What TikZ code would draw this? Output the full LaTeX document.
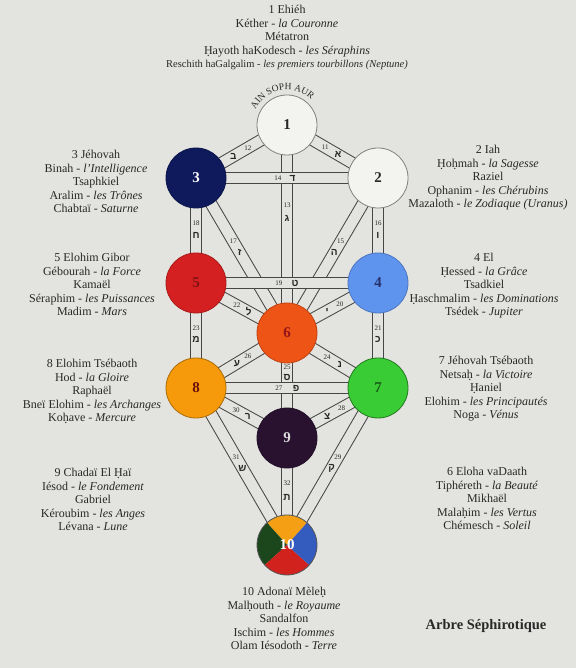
\documentclass[tikz,border=0pt]{standalone}
\usepackage{fontspec}
\setmainfont{Liberation Serif}
\newfontfamily\hebfont[Script=Hebrew]{Liberation Sans}
\usetikzlibrary{decorations.text,calc}
\definecolor{bg}{RGB}{227,227,223}
\definecolor{ink}{RGB}{40,40,40}
\definecolor{chan}{RGB}{70,70,70}
\definecolor{cwhite}{RGB}{243,243,240}
\definecolor{cnavy}{RGB}{14,26,92}
\definecolor{cred}{RGB}{212,32,32}
\definecolor{cblue}{RGB}{95,148,238}
\definecolor{cver}{RGB}{238,84,22}
\definecolor{corange}{RGB}{246,154,12}
\definecolor{cgreen}{RGB}{58,204,52}
\definecolor{cpurple}{RGB}{40,18,48}
\definecolor{qor}{RGB}{245,160,20}
\definecolor{qgr}{RGB}{28,70,28}
\definecolor{qbl}{RGB}{52,92,190}
\definecolor{qrd}{RGB}{210,34,30}
\newcommand\hdot[1]{\leavevmode\vtop{\baselineskip0pt\lineskip.12ex\lineskiplimit0pt\ialign{##\crcr#1\crcr\hidewidth.\hidewidth\crcr}}}
\pgfdeclarelayer{background}
\pgfdeclarelayer{paths}
\pgfdeclarelayer{fills}
\pgfsetlayers{background,paths,fills,main}
\tikzset{
  seph/.style={circle, minimum size=60pt, inner sep=0pt, line width=0.8pt, font=\fontsize{15}{15}\selectfont\bfseries},
  chanout/.style={line width=12.5pt, draw=chan},
  chanin/.style={line width=10.5pt, draw=bg},
  numlbl/.style={font=\fontsize{7}{7}\selectfont, text=ink, inner sep=0pt},
  heblbl/.style={font=\fontsize{10}{10}\selectfont\hebfont\bfseries, text=ink, inner sep=0pt},
  txt/.style={align=center, font=\fontsize{12}{13.5}\selectfont, text=ink, inner sep=0pt, anchor=base},
}
\begin{document}
\begin{tikzpicture}[x=1pt,y=1pt]
\useasboundingbox (0,0) rectangle (576,668);
\begin{pgfonlayer}{background}
\fill[bg] (0,0) rectangle (576,668);
\end{pgfonlayer}
% sephiroth
\node[seph, fill=cwhite, draw=gray, text=ink] (s1) at (287,543) {1};
\node[seph, fill=cwhite, draw=gray, text=ink] (s2) at (378,490) {2};
\node[seph, fill=cnavy, draw=cnavy!80!black, text=white] (s3) at (196,490) {3};
\node[seph, fill=cblue, draw=cblue!80!black, text=cnavy!90] (s4) at (378,385) {4};
\node[seph, fill=cred, draw=cred!80!black, text=cred!60!black] (s5) at (196,385) {5};
\node[seph, fill=cver, draw=cver!80!black, text=cred!70!black] (s6) at (287,335) {6};
\node[seph, fill=cgreen, draw=cgreen!60!black, text=cgreen!45!black] (s7) at (378,280) {7};
\node[seph, fill=corange, draw=corange!70!black, text=cred!50!black] (s8) at (196,280) {8};
\node[seph, fill=cpurple, draw=cpurple!80!black, text=white!85!black] (s9) at (287,230) {9};
\node[seph, draw=ink!80, text=white] (s10) at (287,123) {10};
\begin{pgfonlayer}{fills}
\fill[qor] (s10.center) -- ++(48:30pt) arc[start angle=48, end angle=132, radius=30pt] -- cycle;
\fill[qgr] (s10.center) -- ++(132:30pt) arc[start angle=132, end angle=222, radius=30pt] -- cycle;
\fill[qrd] (s10.center) -- ++(222:30pt) arc[start angle=222, end angle=318, radius=30pt] -- cycle;
\fill[qbl] (s10.center) -- ++(318:30pt) arc[start angle=318, end angle=408, radius=30pt] -- cycle;
\end{pgfonlayer}
% paths (channels)
\begin{pgfonlayer}{paths}
\foreach \a/\b in {1/2,1/3,1/6,2/6,2/4,3/6,3/5,4/6,4/7,5/6,5/8,6/7,6/9,6/8,7/9,7/10,8/9,8/10,9/10,3/2,5/4,8/7}{
  \draw[chanout] (s\a.center) -- (s\b.center);
  \draw[chanin] (s\a.center) -- (s\b.center);
}
\end{pgfonlayer}
% path labels
\foreach \n/\a/\b/\tn/\tl/\h in {11/1/2/0.42/0.56/א, 12/1/3/0.43/0.59/ב, 13/1/6/0.385/0.45/ג, 14/3/2/0.45/0.53/ד, 15/2/6/0.41/0.48/ה, 16/2/4/0.43/0.55/ו, 17/3/6/0.41/0.48/ז, 18/3/5/0.43/0.55/ח, 19/5/4/0.456/0.544/ט, 20/4/6/0.42/0.56/י, 21/4/7/0.43/0.54/כ, 22/5/6/0.45/0.58/ל, 23/5/8/0.43/0.54/מ, 24/7/6/0.56/0.42/נ, 25/6/9/0.33/0.42/ס, 26/8/6/0.57/0.45/ע, 27/8/7/0.456/0.55/פ, 28/7/9/0.40/0.56/צ, 29/7/10/0.44/0.51/ק, 30/8/9/0.44/0.57/ר, 31/8/10/0.44/0.51/ש, 32/9/10/0.42/0.56/ת}{
  \node[numlbl] (n\n) at ($(s\a)!\tn!(s\b)$) {\n};
  \node[heblbl] (h\n) at ($(s\a)!\tl!(s\b)$) {\h};
}
% AIN SOPH AUR
\path[decorate, decoration={text along path, text color=ink, text={|\fontsize{9.5}{9.5}\selectfont|AIN SOPH AUR}, text align=center}]
  ($(s1)+(160:35pt)$) arc[start angle=160, end angle=40, radius=35pt];
% text blocks (anchor = baseline of last line)
\node[txt] (t1) at (287,600) {1 Ehiéh\\Kéther - \textit{la Couronne}\\Métatron\\\hdot{H}ayoth haKodesch - \textit{les Séraphins}\\{\fontsize{10.5}{13.5}\selectfont Reschith haGalgalim - \textit{les premiers tourbillons (Neptune)}}};
\node[txt] (t3) at (96,455) {3 Jéhovah\\Binah - \textit{l'Intelligence}\\Tsaphkiel\\Aralim - \textit{les Trônes}\\Chabtaï - \textit{Saturne}};
\node[txt] (t2) at (488,460) {2 Iah\\\hdot{H}o\hdot{h}mah - \textit{la Sagesse}\\Raziel\\Ophanim - \textit{les Chérubins}\\Mazaloth - \textit{le Zodiaque (Uranus)}};
\node[txt] (t5) at (92,352) {5 Elohim Gibor\\Gébourah - \textit{la Force}\\Kamaël\\Séraphim - \textit{les Puissances}\\Madim - \textit{Mars}};
\node[txt] (t4) at (484,352) {4 El\\\hdot{H}essed - \textit{la Grâce}\\Tsadkiel\\\hdot{H}aschmalim - \textit{les Dominations}\\Tsédek - \textit{Jupiter}};
\node[txt] (t8) at (92,246) {8 Elohim Tsébaoth\\Hod - \textit{la Gloire}\\Raphaël\\Bneï Elohim - \textit{les Archanges}\\Ko\hdot{h}ave - \textit{Mercure}};
\node[txt] (t7) at (486,249) {7 Jéhovah Tsébaoth\\Netsa\hdot{h} - \textit{la Victoire}\\\hdot{H}aniel\\Elohim - \textit{les Principautés}\\Noga - \textit{Vénus}};
\node[txt] (t9) at (93,137) {9 Chadaï El \hdot{H}aï\\Iésod - \textit{le Fondement}\\Gabriel\\Kéroubim - \textit{les Anges}\\Lévana - \textit{Lune}};
\node[txt] (t6) at (487,138) {6 Eloha vaDaath\\Tiphéreth - \textit{la Beauté}\\Mikhaël\\Mala\hdot{h}im - \textit{les Vertus}\\Chémesch - \textit{Soleil}};
\node[txt] (t10) at (284,18) {10 Adonaï Mèle\hdot{h}\\Mal\hdot{h}outh - \textit{le Royaume}\\Sandalfon\\Ischim - \textit{les Hommes}\\Olam Iésodoth - \textit{Terre}};
\node[font=\fontsize{14.5}{14.5}\selectfont\bfseries, text=ink, inner sep=0pt, anchor=base] (title) at (486,38) {Arbre Séphirotique};
\end{tikzpicture}
\end{document}
